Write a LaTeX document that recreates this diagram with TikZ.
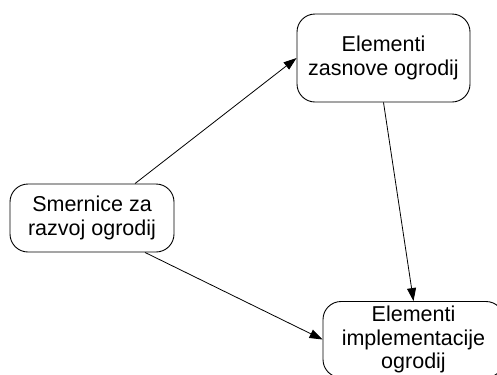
\documentclass[tikz,border=0pt]{standalone}
\usepackage{fontspec}
\setmainfont{Liberation Sans}
\usetikzlibrary{arrows.meta}
\begin{document}
\begin{tikzpicture}[x=1bp, y=-1bp,
  box/.style={draw=black, line width=0.9bp, rounded corners=18bp,
    align=center, inner sep=3bp,
    font=\fontsize{21.5bp}{23.3bp}\selectfont},
  link/.style={draw=black, line width=0.8bp,
    -{Triangle[length=13bp, width=9bp]}}]
\useasboundingbox (0,0) rectangle (497,374);

% the three boxes
\node[box, minimum width=164bp, minimum height=68bp] (guide) at (92,218)
  {Smernice za\\razvoj ogrodij};
\node[box, minimum width=173bp, minimum height=88bp] (design) at (383.5,58)
  {Elementi\\zasnove ogrodij};
\node[box, minimum width=181bp, minimum height=76bp] (impl) at (413.5,339.5)
  {Elementi\\implementacije\\ogrodij};

% connectors
\draw[link] ([xshift=43bp]guide.north) -- (design.west);
\draw[link] ([xshift=53bp]guide.south) -- (impl.west);
\draw[link] (design.south) -- (impl.north);
\end{tikzpicture}
\end{document}
